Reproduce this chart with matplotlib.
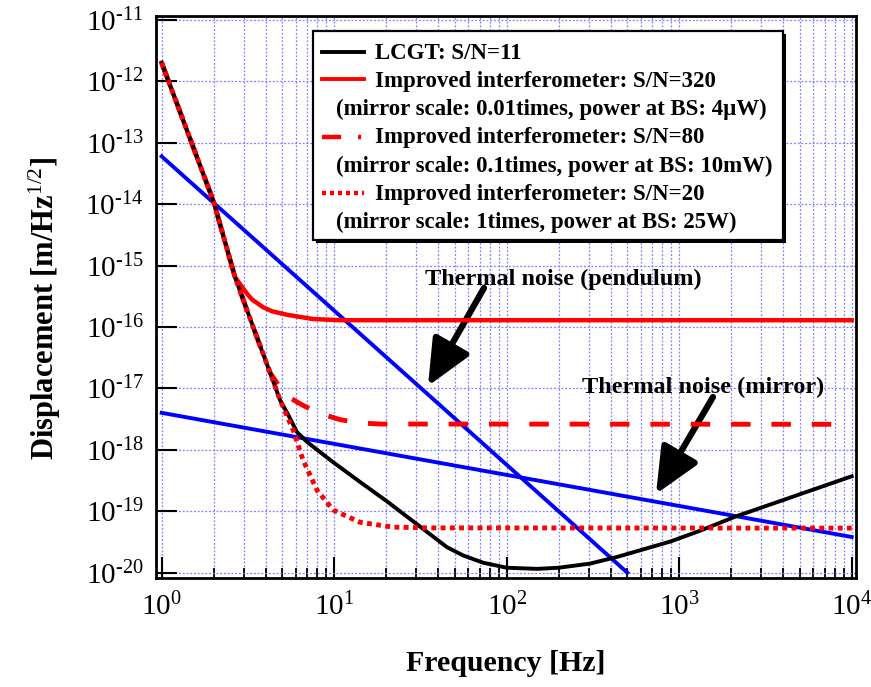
import matplotlib
matplotlib.use("Agg")
import matplotlib.pyplot as plt
from matplotlib.lines import Line2D
from matplotlib.patches import Rectangle

# ---- data ----
lcgt_f = [1, 2, 2.66, 3.39, 4.25, 4.86, 5.34, 6.08, 6.95, 7.96, 9.85, 14.1, 20.2, 31.5,
          45, 56, 73, 100, 150, 200, 304, 437, 887, 1320, 2100, 10000]
lcgt_x = [2e-12, 1.1e-14, 6.5e-16, 1e-16, 1.8e-17, 6.4e-18, 4.0e-18, 1.95e-18,
          1.35e-18, 1.0e-18, 6.3e-19, 3.0e-19, 1.45e-19, 5.6e-20, 2.6e-20, 1.9e-20,
          1.45e-20, 1.2e-20, 1.15e-20, 1.2e-20, 1.4e-20, 1.8e-20, 3.2e-20, 4.8e-20,
          8.1e-20, 3.7e-19]

sn320_f = [1, 2, 2.66, 2.89, 3.12, 3.34, 3.87, 4.37, 5.33, 7.5, 10.8, 10000]
sn320_x = [2e-12, 1.1e-14, 6.5e-16, 4.7e-16, 3.5e-16, 2.8e-16, 2.1e-16, 1.8e-16,
           1.58e-16, 1.35e-16, 1.29e-16, 1.29e-16]

sn80_f = [1, 2, 2.66, 3.39, 4.25, 5.05, 5.6, 6.5, 8.05, 10.8, 13.8, 18.4, 10000]
sn80_x = [2e-12, 1.1e-14, 6.5e-16, 1e-16, 1.8e-17, 8.7e-18, 6.9e-18, 5.4e-18,
          4.0e-18, 3.1e-18, 2.75e-18, 2.63e-18, 2.6e-18]

sn20_f = [1, 2, 2.66, 3.39, 4.25, 4.86, 5.78, 6.6, 7.95, 9.85, 14.1, 21.9, 34.6, 10000]
sn20_x = [2e-12, 1.1e-14, 6.5e-16, 1e-16, 1.8e-17, 6.4e-18, 2.1e-18, 6.8e-19,
          2.2e-19, 1.05e-19, 6.6e-20, 5.5e-20, 5.35e-20, 5.3e-20]

pendulum_f = [1, 500]
pendulum_x = [6.0e-14, 1.0e-20]

mirror_f = [1, 10000]
mirror_x = [4.0e-18, 3.8e-20]

legend_labels = [
    "LCGT: S/N=11",
    "Improved interferometer: S/N=320",
    "(mirror scale: 0.01times, power at BS: 4\u03bcW)",
    "Improved interferometer: S/N=80",
    "(mirror scale: 0.1times, power at BS: 10mW)",
    "Improved interferometer: S/N=20",
    "(mirror scale: 1times, power at BS: 25W)",
]
xtick_vals = [1, 10, 100, 1000, 10000]
xtick_labels = [r"$10^{0}$", r"$10^{1}$", r"$10^{2}$", r"$10^{3}$", r"$10^{4}$"]
ytick_vals = [1e-20, 1e-19, 1e-18, 1e-17, 1e-16, 1e-15, 1e-14, 1e-13, 1e-12, 1e-11]
ytick_labels = [r"$10^{\text{-%d}}$" % k for k in range(20, 10, -1)]

# ---- style ----
plt.rcParams["font.family"] = ["Liberation Serif", "DejaVu Serif"]
plt.rcParams["mathtext.fontset"] = "custom"
plt.rcParams["mathtext.rm"] = "Liberation Serif"
plt.rcParams["mathtext.it"] = "Liberation Serif:italic"
plt.rcParams["mathtext.bf"] = "Liberation Serif:bold"

W, H = 871, 687
fig = plt.figure(figsize=(W / 100, H / 100), dpi=100)
ax = fig.add_axes([156 / W, 1 - 578 / H, (856 - 156) / W, (578 - 16) / H])

RED = "#ff0000"
BLUE = "#0000ff"

ax.plot(pendulum_f, pendulum_x, color=BLUE, lw=2.8, zorder=3)
ax.plot(mirror_f, mirror_x, color=BLUE, lw=2.8, zorder=3)
ax.plot(sn320_f, sn320_x, color=RED, lw=3.2, zorder=4)
ax.plot(sn80_f, sn80_x, color=RED, lw=3.5, dashes=(4, 4.3), zorder=4)
ax.plot(sn20_f, sn20_x, color=RED, lw=3.5, dashes=(1, 0.9), zorder=5)
ax.plot(lcgt_f, lcgt_x, color="black", lw=2.8, zorder=4)

ax.set_xscale("log")
ax.set_yscale("log")
ax.set_xlim(10 ** -0.033, 10 ** 4.025)
ax.set_ylim(10 ** -20.088, 10 ** -10.935)

ax.set_xticks(xtick_vals)
ax.set_xticklabels(xtick_labels, fontsize=21)
ax.set_yticks(ytick_vals)
ax.set_yticklabels(ytick_labels, fontsize=21)
ax.yaxis.set_minor_locator(matplotlib.ticker.NullLocator())
ax.xaxis.set_minor_locator(matplotlib.ticker.LogLocator(base=10, subs=range(2, 10)))
ax.xaxis.set_minor_formatter(matplotlib.ticker.NullFormatter())
ax.tick_params(axis="x", which="major", direction="in", length=15, width=1.5, pad=11)
ax.tick_params(axis="x", which="minor", direction="in", length=7.5, width=1.3)
ax.tick_params(axis="y", which="major", direction="in", length=15, width=1.5, pad=9)

ax.grid(True, which="major", axis="both", color="#7f7fff", ls=(0, (1.5, 1.5)), lw=0.9)
ax.grid(True, which="minor", axis="x", color="#7f7fff", ls=(0, (1.5, 1.5)), lw=0.9)
for s in ax.spines.values():
    s.set_linewidth(2)

ax.set_xlabel("Frequency [Hz]", fontsize=21.5, fontweight="bold", labelpad=20)
ax.set_ylabel(r"Displacement [m/Hz$^{1/2}$]", fontsize=22, fontweight="bold")
ax.yaxis.set_label_coords(-0.133, 0.48)


def fx(x):
    return x / W


def fy(y):
    return 1 - y / H


# ---- legend box (drawn manually) ----
shadow = Rectangle((fx(316), fy(243)), fx(786) - fx(316), fy(34) - fy(243),
                   transform=fig.transFigure, facecolor="black", edgecolor="none", zorder=10)
box = Rectangle((fx(313), fy(240)), fx(783) - fx(313), fy(31) - fy(240),
                transform=fig.transFigure, facecolor="white", edgecolor="black", lw=1.6, zorder=11)
fig.add_artist(shadow)
fig.add_artist(box)

baselines = [59.3, 86.7, 115, 143, 172, 200, 228]
text_x = [375, 375, 336, 375, 336, 375, 336]
for lab, bx, by in zip(legend_labels, text_x, baselines):
    fig.text(fx(bx), fy(by), lab, fontsize=16.5, fontweight="bold", va="baseline",
             ha="left", zorder=12)

hx0, hx1 = fx(322), fx(364)
fig.add_artist(Line2D([hx0, hx1], [fy(51.7)] * 2, color="black", lw=2.8,
                      transform=fig.transFigure, zorder=12))
fig.add_artist(Line2D([hx0, hx1], [fy(79.3)] * 2, color=RED, lw=2.8,
                      transform=fig.transFigure, zorder=12))
fig.add_artist(Line2D([hx0, hx1], [fy(137)] * 2, color=RED, lw=3.2,
                      dashes=(4.3, 3.8, 0.7, 10), transform=fig.transFigure, zorder=12))
fig.add_artist(Line2D([hx0, hx1], [fy(193)] * 2, color=RED, lw=3.2,
                      dashes=(0.9, 0.9), transform=fig.transFigure, zorder=12))

# ---- annotations ----
fig.text(fx(425), fy(285), "Thermal noise (pendulum)", fontsize=17.5, fontweight="bold",
         va="baseline", ha="left", zorder=12)
fig.text(fx(582), fy(393), "Thermal noise (mirror)", fontsize=17.5, fontweight="bold",
         va="baseline", ha="left", zorder=12)
arrow_kw = dict(arrowstyle="-|>,head_length=1.0,head_width=0.45", color="black", lw=4.5,
                mutation_scale=28, shrinkA=0, shrinkB=0)
ax.annotate("", xy=(428, H - 386), xycoords="figure pixels",
            xytext=(484, H - 288), textcoords="figure pixels", arrowprops=arrow_kw)
ax.annotate("", xy=(656, H - 494), xycoords="figure pixels",
            xytext=(713, H - 397), textcoords="figure pixels", arrowprops=arrow_kw)

fig.savefig("out.png", dpi=100)
